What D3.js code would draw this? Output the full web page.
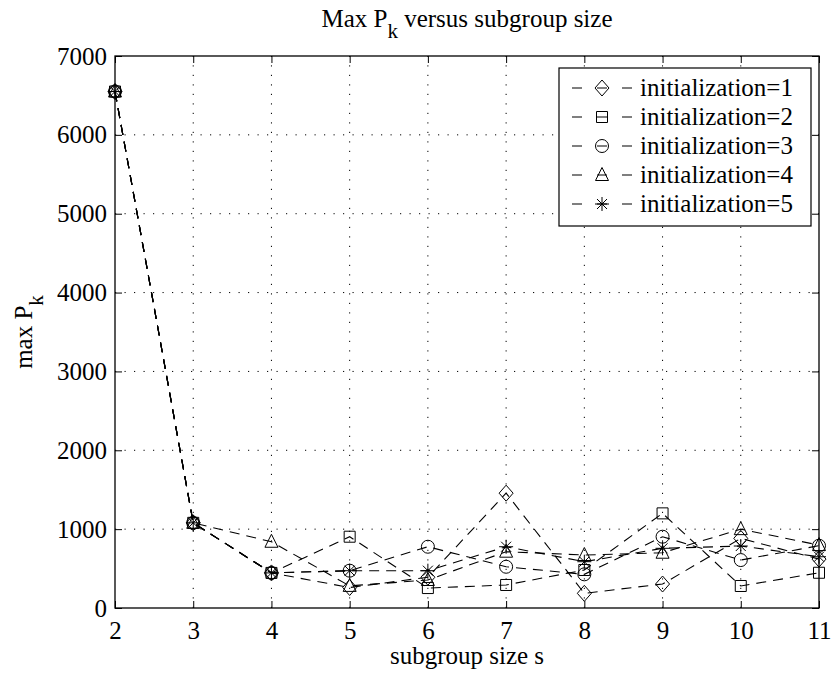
<!DOCTYPE html>
<html><head><meta charset="utf-8">
<script src="https://cdn.jsdelivr.net/npm/d3@7"></script>
<style>
body{margin:0;background:#fff;}
svg{display:block;}
svg text{font-family:"Liberation Serif","Times New Roman",serif;}
</style></head>
<body><svg id="chart" width="833" height="675"></svg>
<script>
const sizes = [2,3,4,5,6,7,8,9,10,11];
const init1 = [6550,1080,445,260,390,1456,186,304,883,620];
const init2 = [6550,1080,445,904,253,292,482,1200,279,447];
const init3 = [6550,1080,445,473,777,523,427,904,608,790];
const init4 = [6550,1080,840,280,355,714,672,701,1000,798];
const init5 = [6550,1080,445,473,473,777,587,757,786,650];
const seriesNames = ["initialization=1","initialization=2","initialization=3","initialization=4","initialization=5"];
const seriesMarkers = ["diamond","square","circle","triangle","star"];
const yTicks = [0,1000,2000,3000,4000,5000,6000,7000];
const xTicks = [2,3,4,5,6,7,8,9,10,11];

const series = [init1,init2,init3,init4,init5].map((v,i)=>({name:seriesNames[i],marker:seriesMarkers[i],values:v}));

const FONT = "Liberation Serif, Times New Roman, serif";
const svg = d3.select("#chart");
const L=115, R=819, T=56, B=608;
const x = d3.scaleLinear().domain([2,11]).range([L,R]);
const y = d3.scaleLinear().domain([0,7000]).range([B,T]);
const FS = 25;

// grid
const grid = svg.append("g").attr("stroke","#000").attr("stroke-width",1).attr("stroke-dasharray","1.2,8.3");
grid.selectAll("line.v").data(xTicks.slice(1,-1)).join("line")
  .attr("x1",d=>x(d)).attr("x2",d=>x(d)).attr("y1",B).attr("y2",T);
grid.selectAll("line.h").data(yTicks.slice(1,-1)).join("line")
  .attr("y1",d=>y(d)).attr("y2",d=>y(d)).attr("x1",L).attr("x2",R);

// axes
function styleAxis(g){ g.attr("font-family",FONT); g.select(".domain").remove(); g.selectAll("line").attr("stroke","#000");
  g.selectAll("text").attr("font-family",FONT).attr("font-size",FS).attr("fill","#000"); }
svg.append("g").attr("transform",`translate(0,${B})`)
  .call(d3.axisBottom(x).tickValues(xTicks).tickFormat(d3.format("d")).tickSize(-7).tickPadding(13)).call(styleAxis);
svg.append("g").attr("transform",`translate(0,${T})`)
  .call(d3.axisTop(x).tickValues(xTicks).tickFormat("").tickSize(-7)).call(styleAxis);
svg.append("g").attr("transform",`translate(${L},0)`)
  .call(d3.axisLeft(y).tickValues(yTicks).tickFormat(d3.format("d")).tickSize(-7).tickPadding(8)).call(styleAxis);
svg.append("g").attr("transform",`translate(${R},0)`)
  .call(d3.axisRight(y).tickValues(yTicks).tickFormat("").tickSize(-7)).call(styleAxis);
svg.append("rect").attr("x",L).attr("y",T).attr("width",R-L).attr("height",B-T)
  .attr("fill","none").attr("stroke","#000").attr("stroke-width",1.3);

// marker paths
function markerPath(type){
  switch(type){
    case "diamond": return "M0,-8L7,0L0,8L-7,0Z";
    case "square": return "M-5.5,-5.5H5.5V5.5H-5.5Z";
    case "circle": return "M6.5,0A6.5,6.5 0 1,1 -6.5,0A6.5,6.5 0 1,1 6.5,0Z";
    case "triangle": return "M0,-7.5L6.5,5.5L-6.5,5.5Z";
    case "star": return "M0,-7V7M-7,0H7M-5,-5L5,5M-5,5L5,-5";
  }
}

// lines
const line = d3.line().x((d,i)=>x(sizes[i])).y(d=>y(d));
const plot = svg.append("g");
series.forEach(s=>{
  plot.append("path").attr("d",line(s.values)).attr("fill","none").attr("stroke","#000")
    .attr("stroke-width",1.1).attr("stroke-dasharray","10,7");
});
series.forEach(s=>{
  plot.append("g").selectAll("path").data(s.values).join("path")
    .attr("transform",(d,i)=>`translate(${x(sizes[i])},${y(d)})`)
    .attr("d",markerPath(s.marker)).attr("fill","none").attr("stroke","#000").attr("stroke-width",1);
});

// legend
const leg = svg.append("g");
leg.append("rect").attr("x",559).attr("y",68).attr("width",252).attr("height",158)
  .attr("fill","#fff").attr("stroke","#000").attr("stroke-width",1.2);
series.forEach((s,i)=>{
  const cy = 88 + i*29;
  leg.append("line").attr("x1",572).attr("x2",632).attr("y1",cy).attr("y2",cy)
    .attr("stroke","#000").attr("stroke-width",1.1).attr("stroke-dasharray","10,15");
  leg.append("path").attr("transform",`translate(602,${cy})`).attr("d",markerPath(s.marker))
    .attr("fill","none").attr("stroke","#000");
  leg.append("text").attr("x",640).attr("y",cy+8).attr("font-family",FONT).attr("font-size",FS).text(s.name);
});

// title
const title = svg.append("text").attr("x",(L+R)/2).attr("y",27).attr("text-anchor","middle")
  .attr("font-family",FONT).attr("font-size",FS);
title.append("tspan").text("Max P");
title.append("tspan").attr("dy",11).attr("font-size",21).text("k");
title.append("tspan").attr("dy",-11).text(" versus subgroup size");

// x label
svg.append("text").attr("x",(L+R)/2).attr("y",664).attr("text-anchor","middle")
  .attr("font-family",FONT).attr("font-size",FS).text("subgroup size s");

// y label
const yl = svg.append("text").attr("transform",`translate(32,${(T+B)/2}) rotate(-90)`).attr("text-anchor","middle")
  .attr("font-family",FONT).attr("font-size",FS);
yl.append("tspan").text("max P");
yl.append("tspan").attr("dy",11).attr("font-size",21).text("k");
</script>
</body></html>
